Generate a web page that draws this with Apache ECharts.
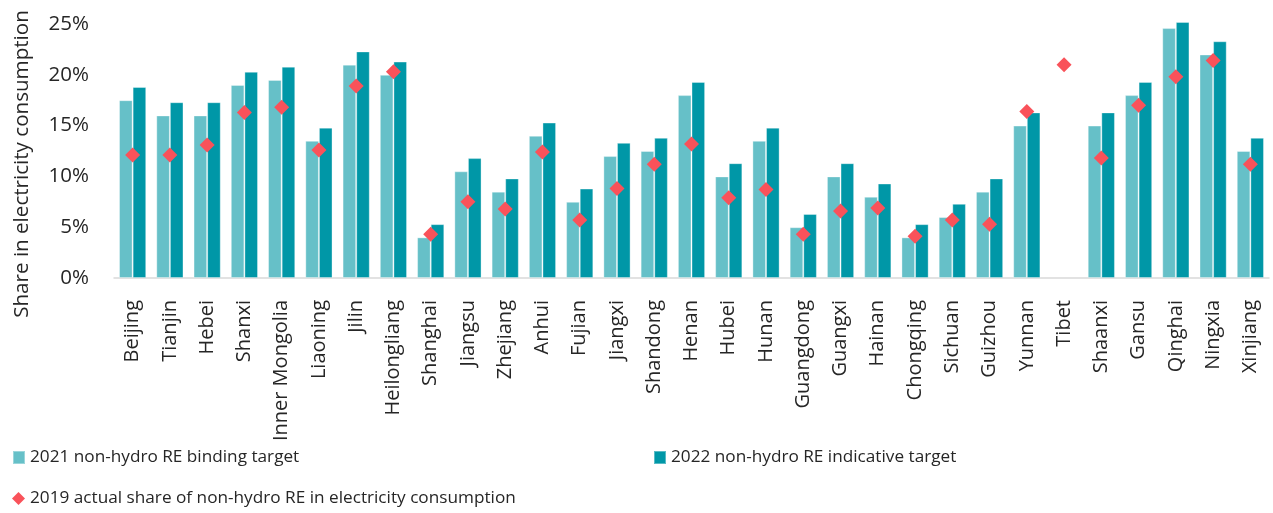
<!DOCTYPE html>
<html>
<head>
<meta charset="utf-8">
<script src="https://cdn.jsdelivr.net/npm/echarts@6/dist/echarts.min.js"></script>
<style>
html,body{margin:0;padding:0;background:#fff;}
#chart{width:1273px;height:513px;}
</style>
</head>
<body>
<div id="chart"></div>
<script>
const categories = ["Beijing","Tianjin","Hebei","Shanxi","Inner Mongolia","Liaoning","Jilin","Heilongliang","Shanghai","Jiangsu","Zhejiang","Anhui","Fujian","Jiangxi","Shandong","Henan","Hubei","Hunan","Guangdong","Guangxi","Hainan","Chongqing","Sichuan","Guizhou","Yunnan","Tibet","Shaanxi","Gansu","Qinghai","Ningxia","Xinjiang"];
const binding2021 = [17.5,16.0,16.0,19.0,19.5,13.5,21.0,20.0,4.0,10.5,8.5,14.0,7.5,12.0,12.5,18.0,10.0,13.5,5.0,10.0,8.0,4.0,6.0,8.5,15.0,null,15.0,18.0,24.6,22.0,12.5];
const indicative2022 = [18.8,17.3,17.3,20.3,20.8,14.8,22.3,21.3,5.3,11.8,9.8,15.3,8.8,13.3,13.8,19.3,11.3,14.8,6.3,11.3,9.3,5.3,7.3,9.8,16.3,null,16.3,19.3,25.2,23.3,13.8];
const actual2019 = [12.1,12.1,13.1,16.3,16.8,12.6,18.9,20.3,4.3,7.5,6.8,12.4,5.7,8.8,11.2,13.2,7.9,8.7,4.3,6.6,6.9,4.1,5.7,5.3,16.4,21.0,11.8,17.0,19.8,21.4,11.2];
const yTicks = [0,5,10,15,20,25];
const seriesNames = ["2021 non-hydro RE binding target","2022 non-hydro RE indicative target","2019 actual share of non-hydro RE in electricity consumption"];
const yAxisTitle = "Share in electricity consumption";

const FONT = "'Open Sans', 'Noto Sans', sans-serif";
const chart = echarts.init(document.getElementById('chart'), null, {renderer:'canvas'});
chart.setOption({
  animation:false,
  backgroundColor:'#ffffff',
  textStyle:{fontFamily:FONT},
  grid:{left:114, right:4, top:24, bottom:235, containLabel:false},
  graphic:[{
    type:'text', x:22, y:164, rotation:Math.PI/2,
    style:{text:yAxisTitle, fill:'#262626', font:"20.6px 'Open Sans', sans-serif", textAlign:'center', textVerticalAlign:'middle'}
  }],
  legend:[
    {data:[seriesNames[0]], left:7, top:444, itemWidth:12, itemHeight:13, icon:'rect',
     textStyle:{fontSize:17.2, color:'#262626', fontFamily:FONT}},
    {data:[seriesNames[1]], left:648, top:444, itemWidth:12, itemHeight:13, icon:'rect',
     textStyle:{fontSize:17.2, color:'#262626', fontFamily:FONT}},
    {data:[seriesNames[2]], left:7, top:485, itemWidth:13, itemHeight:13,
     textStyle:{fontSize:17.2, color:'#262626', fontFamily:FONT}}
  ],
  xAxis:{
    type:'category', data:categories,
    axisLine:{lineStyle:{color:'#d9d9d9', width:1.5}},
    axisTick:{show:false},
    axisLabel:{rotate:90, interval:0, fontSize:20, color:'#262626', margin:22, fontFamily:FONT}
  },
  yAxis:{
    type:'value', min:0, max:25, interval:5,
    axisLine:{show:false}, axisTick:{show:false}, splitLine:{show:false},
    axisLabel:{fontSize:20.5, color:'#262626', margin:25, fontFamily:FONT,
      formatter:function(v){ return yTicks.indexOf(v)>=0 ? v+'%' : ''; }}
  },
  series:[
    {name:seriesNames[0], type:'bar', data:binding2021, barGap:'0%', barCategoryGap:'27%',
     clip:false,
     itemStyle:{color:'#66c0c8', borderColor:'rgba(255,255,255,0.35)', borderWidth:1}},
    {name:seriesNames[1], type:'bar', data:indicative2022, clip:false,
     itemStyle:{color:'#0097a7', borderColor:'rgba(255,255,255,0.35)', borderWidth:1}},
    {name:seriesNames[2], type:'scatter', data:actual2019, symbol:'diamond', symbolSize:[15,15],
     z:5, itemStyle:{color:'#f9525a', opacity:1}}
  ]
});
</script>
</body>
</html>
